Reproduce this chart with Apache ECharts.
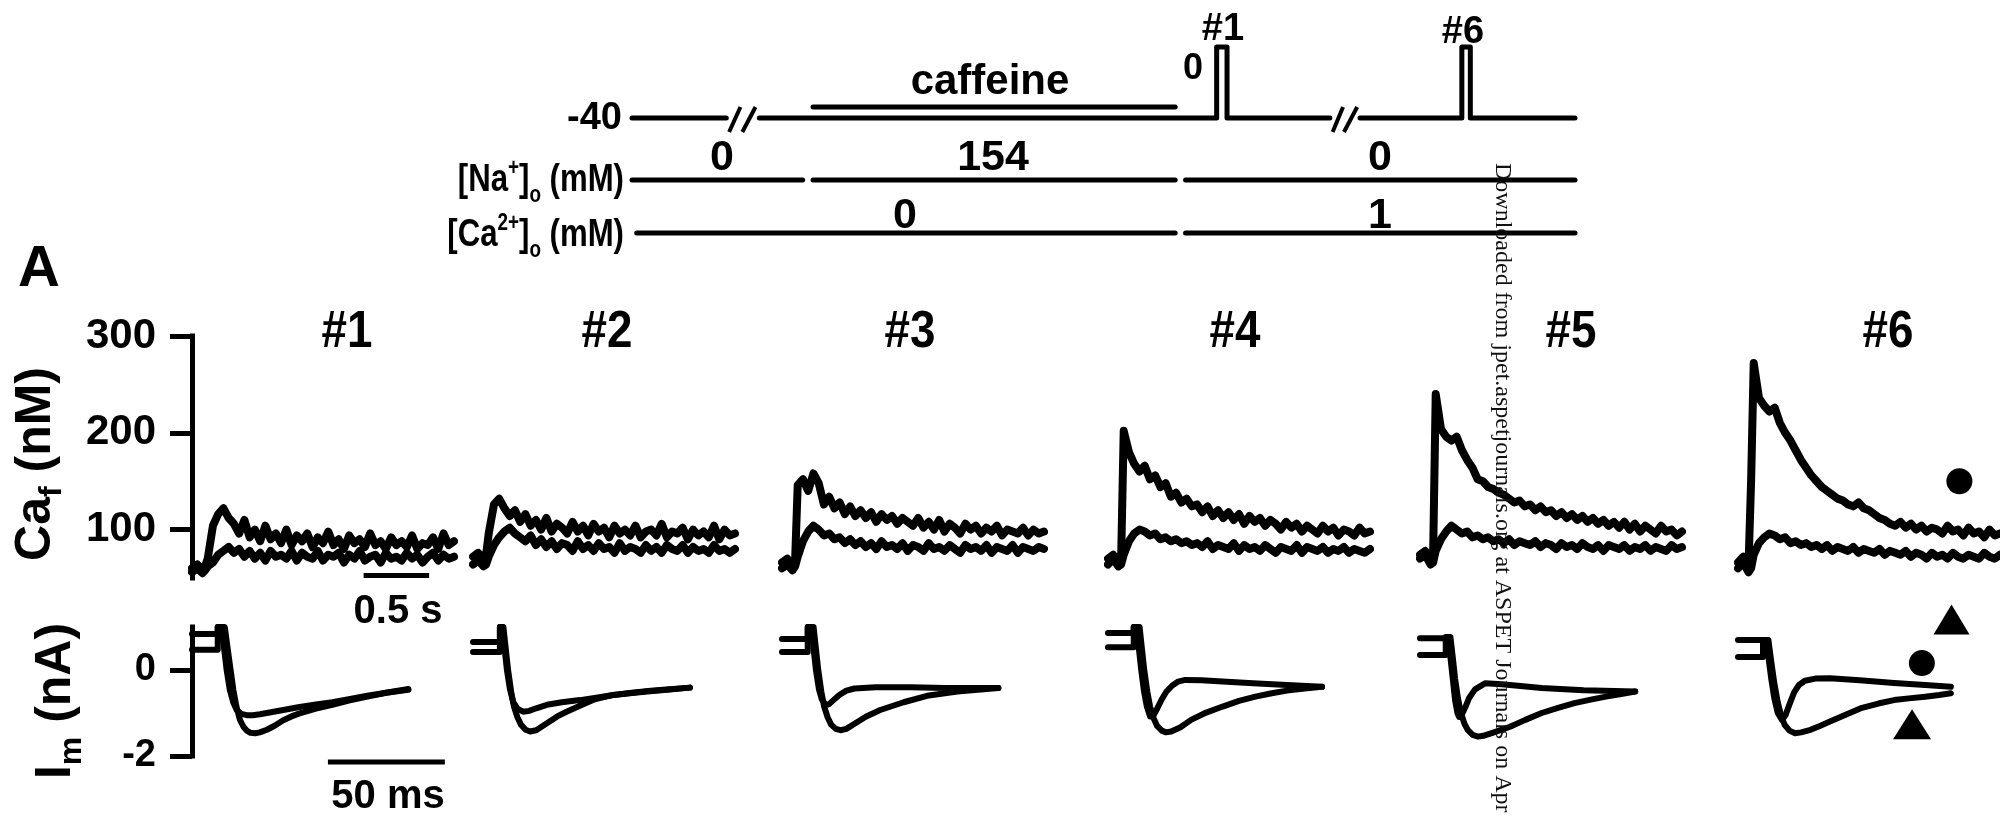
<!DOCTYPE html>
<html><head><meta charset="utf-8">
<script src="https://cdn.jsdelivr.net/npm/echarts@6/dist/echarts.min.js"></script>
<style>html,body{margin:0;padding:0;background:#fff}#c{width:2000px;height:815px}</style>
</head><body><div id="c"></div>
<script>
// ---------- DATA ----------
// Ca_f traces (nM), sampled on caTime (s)
const caTime = [0,0.04,0.08,0.1,0.12,0.16,0.2,0.24,0.28,0.32,0.36,0.4,0.44,0.48,0.52,0.56,0.6,0.64,0.68,0.72,0.76,0.8,0.84,0.88,0.92,0.96,1,1.04,1.08,1.12,1.16,1.2,1.24,1.28,1.32,1.36,1.4,1.44,1.48,1.52,1.56,1.6,1.64,1.68,1.72,1.76,1.8,1.84,1.88,1.92,1.96,2];
const ca1Up = [60,64,58,62,70,104,116,122,112,106,96,110,92,100,88,104,90,96,86,100,84,94,88,96,82,92,86,98,84,90,80,94,86,90,82,96,84,88,80,92,84,88,82,94,80,86,84,92,80,96,84,88];
const ca1Lo = [56,60,55,58,62,66,74,78,82,76,80,72,78,70,76,68,78,72,74,70,78,68,76,72,70,78,68,74,72,76,66,74,70,78,68,72,74,66,76,70,72,68,76,70,74,66,72,76,68,74,70,72];
const ca2Up = [72,76,70,74,96,126,132,122,114,120,108,116,104,110,100,112,98,106,102,96,108,98,104,94,106,98,102,92,104,96,100,94,104,92,98,100,94,106,92,98,96,102,90,100,94,98,92,104,90,100,94,96];
const ca2Lo = [64,68,62,64,72,84,92,98,102,96,92,88,94,84,90,82,88,80,86,84,78,88,80,84,78,86,80,82,76,86,78,82,80,76,84,78,82,76,84,80,78,84,76,82,78,80,76,84,78,80,76,80];
const ca3Up = [66,70,64,68,146,152,140,158,148,126,134,122,128,116,124,114,120,112,118,108,116,110,114,106,112,108,104,112,102,108,100,110,98,106,102,96,106,100,104,96,102,98,104,94,100,98,96,102,94,100,96,98];
const ca3Lo = [60,64,58,62,72,88,98,104,100,94,96,90,92,86,90,84,88,82,86,80,88,82,84,80,86,78,84,82,78,86,80,82,78,84,80,76,84,80,82,78,84,76,82,80,78,84,76,82,80,78,82,80];
const ca4Up = [70,74,66,68,202,180,168,160,166,152,156,144,148,134,138,128,132,124,126,118,124,114,120,112,118,110,116,106,114,108,112,104,110,106,100,108,102,106,98,104,100,96,104,98,102,94,100,98,94,102,96,98];
const ca4Lo = [64,70,62,64,74,88,96,100,98,94,96,90,92,88,90,86,88,84,86,82,88,80,84,82,80,86,78,84,80,82,78,84,80,76,82,80,78,84,76,82,80,78,82,76,80,78,82,76,80,78,76,80];
const ca5Up = [74,78,70,72,240,204,196,192,196,182,172,164,152,150,144,142,138,136,132,128,130,124,126,120,124,118,120,114,118,112,116,110,114,108,112,106,110,104,108,102,108,100,106,98,104,100,96,104,98,100,94,98];
const ca5Lo = [70,74,64,66,78,90,98,104,100,96,98,92,94,90,92,88,90,86,90,84,88,86,84,88,82,86,84,80,86,82,84,80,86,82,80,84,78,84,82,80,84,78,82,80,84,78,82,80,78,84,80,82];
const ca6Up = [66,72,62,150,272,236,228,222,226,210,200,192,182,172,164,156,150,144,140,136,132,130,126,124,128,122,120,116,112,110,106,104,108,102,106,100,104,98,102,100,96,104,98,100,94,102,96,98,92,100,94,96];
const ca6Lo = [60,66,56,60,74,86,92,96,94,90,92,86,88,84,86,82,84,80,84,78,82,80,78,82,76,80,78,76,80,74,78,76,74,78,72,76,74,70,76,72,74,70,76,72,70,74,72,70,76,72,70,74];

// Membrane current traces [ms, nA]
const im1A = [[0,0.47],[11,0.47],[11,1],[14,1],[15,0.6],[16.5,0],[17.7,-0.47],[19,-0.85],[20.5,-1.16],[22,-1.32],[23.4,-1.41],[25,-1.46],[27,-1.47],[29,-1.45],[32,-1.39],[35.5,-1.29],[39,-1.17],[42.5,-1.08],[46,-1.01],[53,-0.9],[60,-0.81],[67,-0.71],[75,-0.62],[83,-0.53],[92.5,-0.44]];
const im1B = [[0,0.84],[11,0.84],[11,1],[12.5,1],[13.5,0.6],[14.8,0],[16.2,-0.47],[17.6,-0.75],[19.1,-0.93],[21,-1.02],[23.4,-1.05],[26,-1.05],[29,-1.03],[32,-1],[39,-0.93],[46,-0.86],[53,-0.8],[60,-0.75],[67,-0.68],[75,-0.6],[83,-0.53],[92.5,-0.46]];
const im2A = [[0,0.42],[11.5,0.42],[11.5,1],[13,1],[14,0.5],[15,0],[16.3,-0.5],[17.5,-0.85],[19,-1.1],[20.5,-1.27],[22.5,-1.39],[24.4,-1.43],[27,-1.4],[31.6,-1.24],[36,-1.08],[40,-0.97],[45.7,-0.83],[52,-0.68],[60,-0.58],[68,-0.53],[76,-0.48],[84,-0.45],[92.7,-0.41]];
const im2B = [[0,0.65],[11.5,0.65],[11.5,1],[12.5,1],[13.5,0.5],[14.5,0],[15.8,-0.45],[17.2,-0.75],[19,-0.9],[21.4,-0.97],[24,-0.95],[27,-0.89],[31.6,-0.81],[38,-0.75],[45.7,-0.7],[52,-0.65],[60,-0.58],[67,-0.54],[74.5,-0.5],[83,-0.46],[92.7,-0.41]];
const im3A = [[0,0.42],[11,0.42],[11,1],[13.5,1],[14.5,0.5],[15.5,0],[16.8,-0.5],[18,-0.85],[19.5,-1.1],[21,-1.27],[23,-1.37],[25,-1.4],[27.5,-1.37],[31,-1.25],[36,-1.08],[42,-0.93],[52,-0.75],[62,-0.6],[75,-0.5],[92.5,-0.42]];
const im3B = [[0,0.72],[11,0.72],[11,1],[12.5,1],[13.5,0.5],[14.5,0],[15.8,-0.45],[17,-0.68],[18.5,-0.8],[20,-0.8],[22,-0.7],[24.5,-0.58],[27.5,-0.48],[31,-0.43],[40,-0.4],[55,-0.4],[70,-0.42],[92.5,-0.42]];
const im4A = [[0,0.53],[11,0.53],[11,1],[13.5,1],[14.5,0.5],[15.5,0],[16.8,-0.5],[18,-0.85],[19.5,-1.12],[21,-1.3],[23,-1.41],[24.8,-1.45],[27,-1.43],[31,-1.33],[35.5,-1.16],[42,-0.99],[49,-0.85],[56,-0.72],[63,-0.62],[70,-0.54],[76.5,-0.48],[84,-0.43],[91.5,-0.39]];
const im4B = [[0,0.86],[11,0.86],[11,1],[12.2,1],[13.2,0.5],[14.2,0],[15.4,-0.5],[16.6,-0.85],[18,-1.08],[19.5,-1.05],[21,-0.9],[23,-0.68],[25,-0.5],[27.5,-0.36],[30,-0.27],[33,-0.23],[40,-0.24],[49,-0.27],[62,-0.31],[76.5,-0.35],[91.5,-0.39]];
const im5A = [[0,0.35],[11,0.35],[11,0.77],[13,0.77],[14,0.3],[15,-0.2],[16.2,-0.65],[17.5,-1],[19,-1.25],[20.5,-1.4],[22.5,-1.51],[24.8,-1.55],[27,-1.53],[31,-1.46],[38.5,-1.32],[45,-1.16],[52,-1],[59,-0.88],[66,-0.77],[73,-0.69],[79.5,-0.62],[86,-0.56],[92,-0.5]];
const im5B = [[0,0.74],[11,0.74],[12,0.74],[13,0.3],[14,-0.2],[15,-0.7],[16,-1],[16.7,-1.09],[18,-1.02],[19.5,-0.85],[21,-0.65],[23.5,-0.45],[27.8,-0.31],[35,-0.33],[52,-0.42],[70,-0.47],[92,-0.5]];
const im6A = [[0,0.3],[10.7,0.3],[10.7,0.7],[13,0.7],[14.2,0.2],[15.5,-0.3],[17,-0.75],[18.5,-1.08],[20,-1.28],[22,-1.41],[24.4,-1.47],[27,-1.45],[31,-1.39],[35,-1.3],[39.3,-1.2],[46,-1.04],[53,-0.88],[60,-0.78],[66.7,-0.7],[73,-0.66],[80,-0.62],[86,-0.58],[91,-0.54]];
const im6B = [[0,0.7],[10.7,0.7],[12,0.7],[13,0.3],[14.2,-0.2],[15.5,-0.65],[17,-1],[18.8,-1.16],[20.3,-1.05],[22,-0.8],[24,-0.52],[26,-0.35],[28.6,-0.25],[33,-0.2],[39.3,-0.19],[52,-0.24],[66.7,-0.3],[80,-0.35],[91,-0.39]];

// scale bars and markers
const caScaleBar = [[1.31,52.5],[1.81,52.5]];      // 0.5 s
const imScaleBar = [[58.1,-2.14],[108.1,-2.14]];    // 50 ms
const caCircle = [[1.69,150]];
const caTriangle = [[1.63,7]];
const imCircle = [[78.6,0.16]];
const imTriangle = [[74.4,-1.26]];

// protocol schematic (x in schematic units 0..100, voltage in mV)
const protoV1 = [[0,-40],[10,-40]];
const protoV2 = [[13.5,-40],[62,-40],[62,0],[63.1,0],[63.1,-40],[74,-40]];
const protoV3 = [[77.2,-40],[88,-40],[88,0],[88.9,0],[88.9,-40],[100,-40]];
const protoBreaks = [[[10.3,-47.9],[11.5,-33.8]],[[11.7,-47.9],[13.1,-33.8]],[[74.3,-47.9],[75.4,-33.8]],[[75.5,-47.9],[76.9,-33.8]]];
const protoCaffeine = [[19.2,-33.8],[57.6,-33.8]];
const protoNa = [[[0,0],[18.1,0]],[[19.2,0],[57.6,0]],[[58.7,0],[100,0]]];
const protoCa = [[[0.5,0],[57.6,0]],[[58.7,0],[100,0]]];

const panelTitles = ['#1','#2','#3','#4','#5','#6'];
const caTicks = [100,200,300];
const imTicks = [0,-2];

// ---------- LAYOUT ----------
const FONT = "'Liberation Sans', Arial, Helvetica, sans-serif";
const panelLeft = [192,473,782,1108,1420,1738];
const titleX = [347,607,910,1235,1571,1888];
const caUps = [ca1Up,ca2Up,ca3Up,ca4Up,ca5Up,ca6Up];
const caLos = [ca1Lo,ca2Lo,ca3Lo,ca4Lo,ca5Lo,ca6Lo];
const imAs = [im1A,im2A,im3A,im4A,im5A,im6A];
const imBs = [im1B,im2B,im3B,im4B,im5B,im6B];

const grids=[], xAxes=[], yAxes=[], series=[];
function addGrid(g, x, y){
  grids.push(Object.assign({containLabel:false}, g));
  const i = grids.length-1;
  xAxes.push(Object.assign({gridIndex:i, type:'value', show:false, splitLine:{show:false}}, x));
  yAxes.push(Object.assign({gridIndex:i, type:'value', show:false, splitLine:{show:false}}, y));
  return i;
}
function line(gi, data, w, extra){
  series.push(Object.assign({type:'line', xAxisIndex:gi, yAxisIndex:gi, data:data, symbol:'none', showSymbol:false,
    lineStyle:{color:'#000', width:w, cap:'round', join:'round'}, animation:false, silent:true, z:3}, extra||{}));
}
function scatter(gi, data, symbol, size){
  series.push({type:'scatter', xAxisIndex:gi, yAxisIndex:gi, data:data, symbol:symbol, symbolSize:size,
    itemStyle:{color:'#000', opacity:1}, clip:false, animation:false, silent:true, z:4});
}

// protocol grids
const gV = addGrid({left:632, width:943, top:47, height:71}, {min:0,max:100}, {min:-40,max:0});
const gNa = addGrid({left:632, width:943, top:170, height:20}, {min:0,max:100}, {min:-1,max:1});
const gCa = addGrid({left:632, width:943, top:223, height:20}, {min:0,max:100}, {min:-1,max:1});
[protoV1,protoV2,protoV3].forEach(d=>line(gV,d,5,{clip:false}));
protoBreaks.forEach(d=>line(gV,d,4,{clip:false, lineStyle:{color:'#000',width:4,cap:'butt'}}));
line(gV, protoCaffeine, 5, {clip:false});
protoNa.forEach(d=>line(gNa,d,5,{clip:false}));
protoCa.forEach(d=>line(gCa,d,5,{clip:false}));

// Ca panels
const caG = [], imG = [];
for (let p=0;p<6;p++){
  const first = p===0;
  const gi = addGrid({left:panelLeft[p], width:262, top:336, height:242},
    {min:0, max:2},
    first ? {show:true, min:50, max:300, interval:50,
        axisLine:{show:true, lineStyle:{color:'#000', width:5, cap:'square'}},
        axisTick:{show:true, length:22, customValues:caTicks, lineStyle:{color:'#000', width:5}},
        axisLabel:{show:true, margin:36, customValues:caTicks, fontSize:42, fontWeight:'bold', fontFamily:FONT, color:'#000'},
        splitLine:{show:false}}
      : {min:50, max:300});
  caG.push(gi);
  line(gi, caTime.map((t,i)=>[t, caLos[p][i]]), 8);
  line(gi, caTime.map((t,i)=>[t, caUps[p][i]]), 8);
}
for (let p=0;p<6;p++){
  const first = p===0;
  const gi = addGrid({left:panelLeft[p], width:262, top:627, height:129},
    {min:0, max:112},
    first ? {show:true, min:-2, max:1, interval:1,
        axisLine:{show:true, lineStyle:{color:'#000', width:5, cap:'square'}},
        axisTick:{show:true, length:22, customValues:imTicks, lineStyle:{color:'#000', width:5}},
        axisLabel:{show:true, margin:36, customValues:imTicks, fontSize:38, fontWeight:'bold', fontFamily:FONT, color:'#000'},
        splitLine:{show:false}}
      : {min:-2, max:1});
  imG.push(gi);
  line(gi, imAs[p], 6, {clip:false});
  line(gi, imBs[p], 6, {clip:false});
}
line(caG[0], caScaleBar, 5, {clip:false, lineStyle:{color:'#000', width:5, cap:'butt'}});
line(imG[0], imScaleBar, 5, {clip:false, lineStyle:{color:'#000', width:5, cap:'butt'}});
scatter(caG[5], caCircle, 'circle', 26);
scatter(caG[5], caTriangle, 'triangle', [36,30]);
scatter(imG[5], imCircle, 'circle', 26);
scatter(imG[5], imTriangle, 'triangle', [38,30]);

// ---------- TEXT ----------
function txt(x, y, text, size, opt){
  return Object.assign({type:'text', x:x, y:y, silent:true, z:10, style:Object.assign({text:text, fontSize:size, fontWeight:'bold', fontFamily:FONT, fill:'#000', textAlign:'center', textVerticalAlign:'middle'}, (opt&&opt.style)||{})}, (opt&&opt.el)||{});
}
const B = (s,lh)=>({fontSize:s, fontWeight:'bold', fontFamily:FONT, fill:'#000', color:'#000', lineHeight:lh, verticalAlign:'middle'});
const graphics = [];
graphics.push(txt(39, 270, 'A', 58));
panelTitles.forEach((t,i)=>graphics.push(txt(titleX[i], 333, t, 52, {el:{scaleX:0.88}})));
// protocol labels
graphics.push(txt(622, 119, '-40', 38, {style:{textAlign:'right'}}));
graphics.push(txt(990, 82, 'caffeine', 42));
graphics.push(txt(1193, 69, '0', 36));
graphics.push(txt(1223, 30, '#1', 38));
graphics.push(txt(1463, 33, '#6', 38));
graphics.push(txt(722, 158, '0', 43));
graphics.push(txt(993, 158, '154', 43));
graphics.push(txt(1380, 158, '0', 43));
graphics.push(txt(905, 216, '0', 43));
graphics.push(txt(1380, 216, '1', 43));
function rowLabel(y, ion, charge){
  return txt(624, y, '{n|[' + ion + '}{sup|' + charge + '}{n|]}{sub|o}{n| (mM)}', 38, {el:{scaleX:0.82}, style:{textAlign:'right', rich:{
    n:B(38, 52),
    sup:Object.assign(B(23, 23), {verticalAlign:'top', padding:[2,0,0,0]}),
    sub:Object.assign(B(23, 23), {verticalAlign:'bottom'})}}});
}
graphics.push(rowLabel(181, 'Na', '+'));
graphics.push(rowLabel(236, 'Ca', '2+'));
// scale bar labels
graphics.push(txt(398, 612, '0.5 s', 40));
graphics.push(txt(388, 797, '50 ms', 40));
// axis titles
graphics.push(txt(36, 464, '{b|Ca}{s|f}{b| (nM)}', 50, {el:{rotation:Math.PI/2}, style:{rich:{b:B(50,64), s:Object.assign(B(32,32),{verticalAlign:'bottom'})}}}));
graphics.push(txt(56, 701, '{b|I}{s|m}{b| (nA)}', 50, {el:{rotation:Math.PI/2}, style:{rich:{b:B(50,64), s:Object.assign(B(32,32),{verticalAlign:'bottom'})}}}));
// watermark
graphics.push(txt(1502, 163, 'Downloaded from jpet.aspetjournals.org at ASPET Journals on Apr', 24,
  {el:{rotation:-Math.PI/2}, style:{fontWeight:'normal', fontFamily:"'Liberation Serif','Times New Roman',serif", textAlign:'left', fill:'#111'}}));

const chart = echarts.init(document.getElementById('c'), null, {renderer:'canvas', width:2000, height:815});
chart.setOption({
  animation:false,
  backgroundColor:'#fff',
  grid:grids, xAxis:xAxes, yAxis:yAxes, series:series,
  graphic:{elements:graphics}
});
</script>
</body></html>
